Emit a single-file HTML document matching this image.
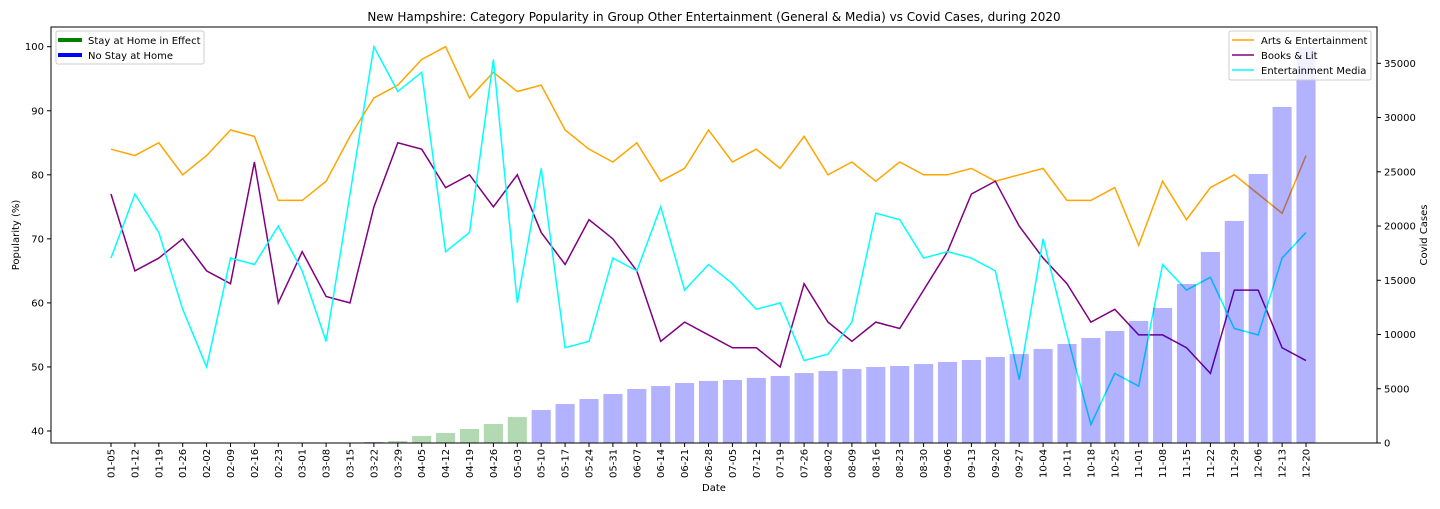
<!DOCTYPE html>
<html><head><meta charset="utf-8"><style>
body{margin:0;background:#fff;}
svg text{font-family:"DejaVu Sans","Liberation Sans",sans-serif;fill:#000;}
</style></head><body>
<svg id="chart" width="1440" height="504" xmlns="http://www.w3.org/2000/svg">
<rect width="1440" height="504" fill="#fff"/>
<text x="714" y="21" font-size="12" text-anchor="middle">New Hampshire: Category Popularity in Group Other Entertainment (General &amp; Media) vs Covid Cases, during 2020</text>
<g id="lines"></g><g id="bars"></g><g id="axes"></g>
<rect x="51" y="27" width="1326" height="416" fill="none" stroke="#000" stroke-width="1"/>
<text x="714" y="491" font-size="10" text-anchor="middle">Date</text>
<text transform="translate(19,235) rotate(-90)" font-size="10" text-anchor="middle">Popularity (%)</text>
<text transform="translate(1427,235) rotate(-90)" font-size="10" text-anchor="middle">Covid Cases</text>
<g>
<rect x="56" y="31" width="148" height="33" fill="#fff" fill-opacity="0.8" stroke="#ccc" rx="2"/>
<line x1="58" y1="40" x2="82" y2="40" stroke="green" stroke-width="4"/>
<text x="88" y="44" font-size="10">Stay at Home in Effect</text>
<line x1="58" y1="55" x2="82" y2="55" stroke="blue" stroke-width="4"/>
<text x="88" y="59" font-size="10">No Stay at Home</text>
</g>
<g>
<rect x="1229" y="31" width="142" height="49" fill="#fff" fill-opacity="0.8" stroke="#ccc" rx="2"/>
<line x1="1232" y1="40" x2="1254" y2="40" stroke="orange" stroke-width="1.5"/>
<text x="1261" y="44" font-size="10">Arts &amp; Entertainment</text>
<line x1="1232" y1="55" x2="1254" y2="55" stroke="purple" stroke-width="1.5"/>
<text x="1261" y="59" font-size="10">Books &amp; Lit</text>
<line x1="1232" y1="70" x2="1254" y2="70" stroke="cyan" stroke-width="1.5"/>
<text x="1261" y="74" font-size="10">Entertainment Media</text>
</g>
</svg>
<script>
const dates=["01-05","01-12","01-19","01-26","02-02","02-09","02-16","02-23","03-01","03-08","03-15","03-22","03-29","04-05","04-12","04-19","04-26","05-03","05-10","05-17","05-24","05-31","06-07","06-14","06-21","06-28","07-05","07-12","07-19","07-26","08-02","08-09","08-16","08-23","08-30","09-06","09-13","09-20","09-27","10-04","10-11","10-18","10-25","11-01","11-08","11-15","11-22","11-29","12-06","12-13","12-20"];
const arts=[84,83,85,80,83,87,86,76,76,79,86,92,94,98,100,92,96,93,94,87,84,82,85,79,81,87,82,84,81,86,80,82,79,82,80,80,81,79,80,81,76,76,78,69,79,73,78,80,77,74,83];
const books=[77,65,67,70,65,63,82,60,68,61,60,75,85,84,78,80,75,80,71,66,73,70,65,54,57,55,53,53,50,63,57,54,57,56,62,68,77,79,72,67,63,57,59,55,55,53,49,62,62,53,51];
const media=[67,77,71,59,50,67,66,72,65,54,77,100,93,96,68,71,98,60,81,53,54,67,65,75,62,66,63,59,60,51,52,57,74,73,67,68,67,65,48,70,55,41,49,47,66,62,64,56,55,67,71];
const cases=[0,0,0,0,0,0,0,0,0,0,0,90,180,650,920,1290,1750,2390,3040,3590,4060,4520,4980,5250,5530,5720,5810,6000,6180,6450,6640,6820,7010,7100,7280,7470,7650,7930,8200,8670,9130,9680,10330,11250,12450,14660,17610,20470,24800,30980,36500];
const stayHome=[0,0,0,0,0,0,0,0,0,0,0,0,1,1,1,1,1,1,0,0,0,0,0,0,0,0,0,0,0,0,0,0,0,0,0,0,0,0,0,0,0,0,0,0,0,0,0,0,0,0,0];
const leftTicks=[40,50,60,70,80,90,100];
const rightTicks=[0,5000,10000,15000,20000,25000,30000,35000];

const NS="http://www.w3.org/2000/svg";
const X=i=>111+i*23.9;
const YL=v=>46.7+(100-v)*6.405;
const YR=v=>443-v/5000*54.24;
function mk(tag,attrs,parent){const e=document.createElementNS(NS,tag);for(const k in attrs)e.setAttribute(k,attrs[k]);parent.appendChild(e);return e;}
const lines=document.getElementById('lines'),bars=document.getElementById('bars'),axes=document.getElementById('axes');

[[arts,'orange','line-arts-entertainment'],[books,'purple','line-books-lit'],[media,'cyan','line-entertainment-media']].forEach(([d,c,n])=>{
  const p=mk('polyline',{points:d.map((v,i)=>X(i)+','+YL(v)).join(' '),fill:'none',stroke:c,'stroke-width':1.5},lines);
  
  
});
cases.forEach((v,i)=>{
  const y=YR(v);
  const r=mk('rect',{x:X(i)-9.55,y:y,width:19.1,height:443-y,fill:stayHome[i]?'green':'blue','fill-opacity':0.3},bars);
  
  
});
dates.forEach((d,i)=>{
  mk('line',{x1:X(i),x2:X(i),y1:443,y2:447,stroke:'#000'},axes);
  const t=mk('text',{transform:`translate(${X(i)+3.5},478) rotate(-90)`,'font-size':10},axes);
  t.textContent=d;
  
  
});
leftTicks.forEach(v=>{
  mk('line',{x1:47,x2:51,y1:YL(v),y2:YL(v),stroke:'#000'},axes);
  const t=mk('text',{x:44,y:YL(v)+3.5,'font-size':10,'text-anchor':'end'},axes);
  t.textContent=v;
  
  
});
rightTicks.forEach(v=>{
  mk('line',{x1:1377,x2:1381,y1:YR(v),y2:YR(v),stroke:'#000'},axes);
  const t=mk('text',{x:1384,y:YR(v)+3.5,'font-size':10},axes);
  t.textContent=v;
  
  
});
</script>
</body></html>
